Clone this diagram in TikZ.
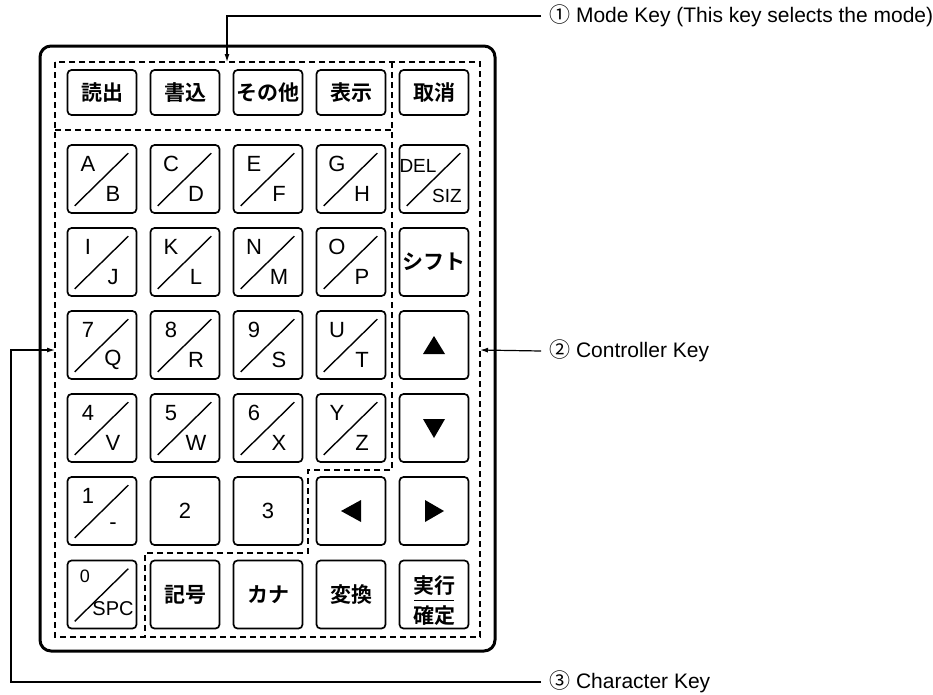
\documentclass[tikz,border=0pt]{standalone}
\usepackage{fontspec}
\setmainfont{Liberation Sans}
\newfontfamily\jpfont{Noto Sans CJK JP}[BoldFont={Noto Sans CJK JP Bold}]
\usepackage{tikz}
\usetikzlibrary{
    arrows.meta,
    positioning,
    calc
}
\tikzset{
    % Outer case of the keypad
    body/.style={
        draw,
        line width=3pt,
        rounded corners=11pt,
    },
    % Base style for all keys
    key/.style={
        draw,
        line width=1.7pt,
        rounded corners=4pt,
        minimum width=69pt,
        minimum height=68pt,
        inner sep=0pt,
        font=\fontsize{22}{24}\selectfont,
    },
    % Mode keys - flat top row
    modekey/.style={
        key,
        minimum height=45pt,
        font=\jpfont\bfseries\fontsize{21}{23}\selectfont,
    },
    % Keys printed in Japanese
    jpkey/.style={
        key,
        font=\jpfont\bfseries\fontsize{21}{23}\selectfont,
    },
    % Slash and letters of a two-letter key
    keyslash/.style={
        line width=1.4pt,
    },
    keychar/.style={
        inner sep=0pt,
        font=\fontsize{22}{24}\selectfont,
    },
    % Dashed key groups
    area/.style={
        line width=1.4pt,
        dash pattern=on 6pt off 4pt,
    },
    % Callout lines
    callout/.style={
        line width=1.2pt,
        -{Latex[length=8pt, width=5pt]},
    },
    calltext/.style={
        anchor=west,
        inner sep=0pt,
        font=\fontsize{21}{23}\selectfont,
    },
}
% name, x, y, upper, lower
\newcommand{\slashkey}[5]{%
    \node[key] (#1) at (#2,#3) {};
    \draw[keyslash] ([shift={(8,-8)}]#1.south west) -- ([shift={(-9,9)}]#1.north east);
    \node[keychar] at ([shift={(-14,-15)}]#1.center) {#4};
    \node[keychar] at ([shift={(11,15)}]#1.center) {#5};
}

\begin{document}
\begin{tikzpicture}[x=1pt, y=-1pt]
    \useasboundingbox (0,0) rectangle (933,694);

    % case and key groups
    \draw[body] (40,46) rectangle (495,651);
    \draw[area] (55,62) rectangle (480,637);
    \draw[area] (55,130) -- (392,130);
    \draw[area] (392,62) -- (392,470) -- (308,470) -- (308,553) -- (145,553) -- (145,637);

    % mode row
    \node[modekey] (read) at (102,92.5) {読出};
    \node[modekey] (write) at (185,92.5) {書込};
    \node[modekey] (other) at (268,92.5) {その他};
    \node[modekey] (show) at (351,92.5) {表示};
    \node[modekey] (cancel) at (434,92.5) {取消};

    % letter rows
    \slashkey{kAB}{102}{179}{A}{B}
    \slashkey{kCD}{185}{179}{C}{D}
    \slashkey{kEF}{268}{179}{E}{F}
    \slashkey{kGH}{351}{179}{G}{H}
    \node[key] (del) at (434,179) {};
    \draw[keyslash] ([shift={(8,-8)}]del.south west) -- ([shift={(-9,9)}]del.north east);
    \node[keychar, font=\fontsize{19}{21}\selectfont] at ([shift={(-16,-13)}]del.center) {DEL};
    \node[keychar, font=\fontsize{19}{21}\selectfont] at ([shift={(13,17)}]del.center) {SIZ};

    \slashkey{kIJ}{102}{262}{I}{J}
    \slashkey{kKL}{185}{262}{K}{L}
    \slashkey{kNM}{268}{262}{N}{M}
    \slashkey{kOP}{351}{262}{O}{P}
    \node[jpkey] (shift) at (434,262) {シフト};

    \slashkey{k7Q}{102}{345}{7}{Q}
    \slashkey{k8R}{185}{345}{8}{R}
    \slashkey{k9S}{268}{345}{9}{S}
    \slashkey{kUT}{351}{345}{U}{T}
    \node[key] (up) at (434,345) {};
    \fill[shift={(up.center)}] (-11,9) -- (11,9) -- (0,-9) -- cycle;

    \slashkey{k4V}{102}{428}{4}{V}
    \slashkey{k5W}{185}{428}{5}{W}
    \slashkey{k6X}{268}{428}{6}{X}
    \slashkey{kYZ}{351}{428}{Y}{Z}
    \node[key] (down) at (434,428) {};
    \fill[shift={(down.center)}] (-11,-9) -- (11,-9) -- (0,10) -- cycle;

    \slashkey{k1}{102}{511}{1}{-}
    \node[key] (k2) at (185,511) {2};
    \node[key] (k3) at (268,511) {3};
    \node[key] (left) at (351,511) {};
    \fill[shift={(left.center)}] (10,-11) -- (10,11) -- (-10,0) -- cycle;
    \node[key] (right) at (434,511) {};
    \fill[shift={(right.center)}] (-9,-11) -- (-9,11) -- (10,0) -- cycle;

    % bottom row
    \node[key] (k0) at (102,594.5) {};
    \draw[keyslash] ([shift={(8,-8)}]k0.south west) -- ([shift={(-9,9)}]k0.north east);
    \node[keychar, font=\fontsize{18}{20}\selectfont] at ([shift={(-17,-18)}]k0.center) {0};
    \node[keychar, font=\fontsize{20}{22}\selectfont] at ([shift={(11,14)}]k0.center) {SPC};
    \node[jpkey] (symbol) at (185,594.5) {記号};
    \node[jpkey] (kana) at (268,594.5) {カナ};
    \node[jpkey] (convert) at (351,594.5) {変換};
    \node[jpkey] (enter) at (434,594.5) {};
    \node[keychar, font=\jpfont\bfseries\fontsize{21}{23}\selectfont] at ([shift={(0,-9)}]enter.center) {実行};
    \draw[line width=1.4pt] ([shift={(-20,6)}]enter.center) -- ([shift={(20,6)}]enter.center);
    \node[keychar, font=\jpfont\bfseries\fontsize{21}{23}\selectfont] at ([shift={(0,21)}]enter.center) {確定};

    % callouts
    \node[calltext] (modeLbl) at (549,16) {{\jpfont ①} Mode Key (This key selects the mode)};
    \node[calltext] (ctrlLbl) at (549,351) {{\jpfont ②} Controller Key};
    \node[calltext] (charLbl) at (549,682) {{\jpfont ③} Character Key};
    \coordinate (modeTip) at (227,62);
    \coordinate (ctrlTip) at (480,350);
    \coordinate (charBend) at (11,682);
    \coordinate (charTip) at (55,350);

    \draw[callout] ([xshift=-8pt]modeLbl.west) -| (modeTip);
    \draw[callout] ([xshift=-8pt]ctrlLbl.west) -- (ctrlTip);
    \draw[callout] ([xshift=-8pt]charLbl.west) -- (charBend) |- (charTip);
\end{tikzpicture}
\end{document}
